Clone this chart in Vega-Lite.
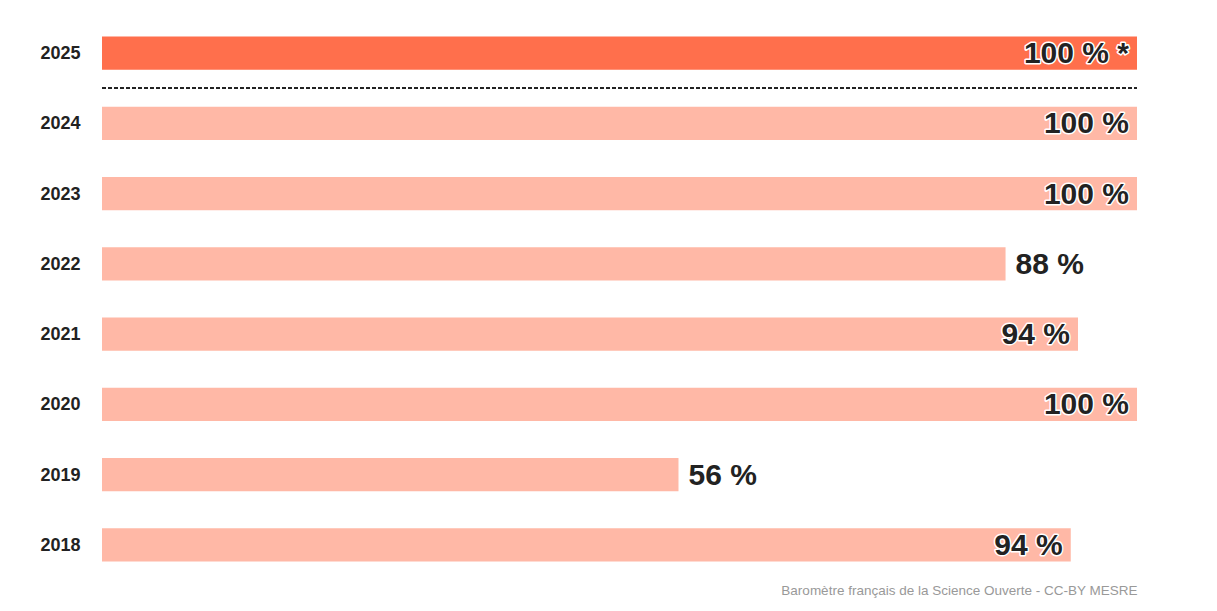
{
  "$schema": "https://vega.github.io/schema/vega-lite/v6.json",
  "width": 1035,
  "height": 562,
  "autosize": {"type": "none"},
  "padding": {"left": 102, "top": 18, "right": 80, "bottom": 31},
  "background": "white",
  "config": {"view": {"stroke": null}, "font": "Liberation Sans"},
  "title": {
    "text": "Baromètre français de la Science Ouverte - CC-BY MESRE",
    "orient": "bottom",
    "anchor": "end",
    "fontSize": 13.5,
    "fontWeight": "normal",
    "color": "#999999",
    "offset": 4,
    "font": "Liberation Sans"
  },
  "data": {
    "values": [
      {"year": "2025", "rate": 100, "label": "100 % *"},
      {"year": "2024", "rate": 100, "label": "100 %"},
      {"year": "2023", "rate": 100, "label": "100 %"},
      {"year": "2022", "rate": 87.3, "label": "88 %"},
      {"year": "2021", "rate": 94.3, "label": "94 %"},
      {"year": "2020", "rate": 100, "label": "100 %"},
      {"year": "2019", "rate": 55.7, "label": "56 %"},
      {"year": "2018", "rate": 93.6, "label": "94 %"}
    ]
  },
  "layer": [
    {
      "mark": {"type": "bar"},
      "encoding": {
        "y": {
          "field": "year", "type": "nominal", "sort": "descending",
          "scale": {"paddingInner": 0.53, "paddingOuter": 0.265},
          "axis": {"title": null, "domain": false, "ticks": false, "tickSize": 0, "labelPadding": 22, "labelFontSize": 18, "labelFontWeight": "bold", "labelColor": "#222222", "labelFont": "Liberation Sans", "labelBaseline": "middle", "labelOffset": 1}
        },
        "x": {"field": "rate", "type": "quantitative", "scale": {"domain": [0, 100], "nice": false}, "axis": null},
        "color": {"condition": {"test": "datum.year === '2025'", "value": "#ff6f4c"}, "value": "#ffb8a6"}
      }
    },
    {
      "mark": {"type": "rule", "strokeDash": [4, 2], "color": "#222222", "strokeWidth": 1, "yOffset": 18.5},
      "encoding": {
        "y": {"datum": "2025", "type": "nominal", "bandPosition": 1},
        "x": {"datum": 0, "type": "quantitative"},
        "x2": {"datum": 100}
      }
    },
    {
      "transform": [{"filter": "datum.rate >= 90"}],
      "mark": {"type": "text", "align": "right", "baseline": "middle", "dx": -8, "dy": 1, "fontSize": 30, "fontWeight": "bold", "fill": "white", "stroke": "white", "strokeWidth": 3, "strokeJoin": "round"},
      "encoding": {
        "y": {"field": "year", "type": "nominal", "sort": "descending"},
        "x": {"field": "rate", "type": "quantitative"},
        "text": {"field": "label"}
      }
    },
    {
      "transform": [{"filter": "datum.rate >= 90"}],
      "mark": {"type": "text", "align": "right", "baseline": "middle", "dx": -8, "dy": 1, "fontSize": 30, "fontWeight": "bold", "fill": "#222222"},
      "encoding": {
        "y": {"field": "year", "type": "nominal", "sort": "descending"},
        "x": {"field": "rate", "type": "quantitative"},
        "text": {"field": "label"}
      }
    },
    {
      "transform": [{"filter": "datum.rate < 90"}],
      "mark": {"type": "text", "align": "left", "baseline": "middle", "dx": 10, "dy": 1, "fontSize": 30, "fontWeight": "bold", "fill": "#222222"},
      "encoding": {
        "y": {"field": "year", "type": "nominal", "sort": "descending"},
        "x": {"field": "rate", "type": "quantitative"},
        "text": {"field": "label"}
      }
    }
  ]
}
